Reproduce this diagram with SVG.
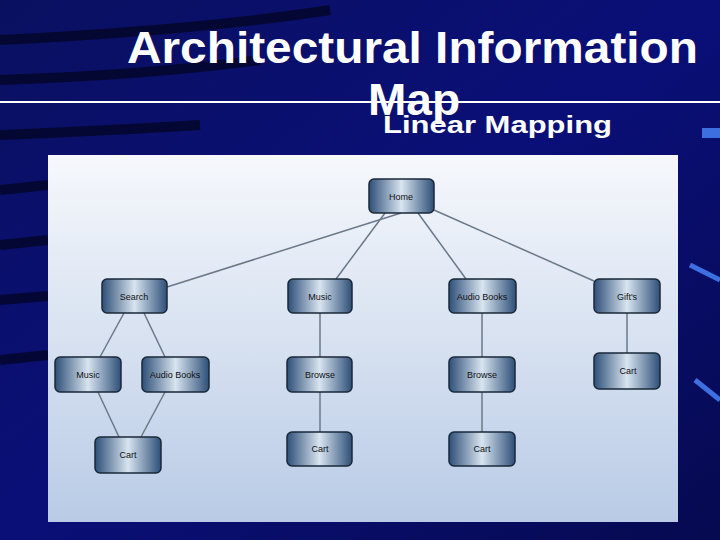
<svg xmlns="http://www.w3.org/2000/svg" width="720" height="540" viewBox="0 0 720 540">
<defs>
<linearGradient id="bg" x1="0" y1="0" x2="1" y2="1"><stop offset="0" stop-color="#0a1060"/><stop offset="0.5" stop-color="#0a0f78"/><stop offset="1" stop-color="#060a50"/></linearGradient>
<linearGradient id="panel" x1="0" y1="0" x2="0" y2="1"><stop offset="0" stop-color="#f6f8fc"/><stop offset="1" stop-color="#b9cbe6"/></linearGradient>
<linearGradient id="node" x1="0" y1="0" x2="1" y2="0"><stop offset="0" stop-color="#2e4f78"/><stop offset="0.5" stop-color="#d8e4f0"/><stop offset="1" stop-color="#2e4f78"/></linearGradient>
<style>
.n rect{fill:url(#node);stroke:#1a2838;stroke-width:1.5}
.n text{font-family:"Liberation Sans",Arial,sans-serif;font-size:9px;fill:#111;text-anchor:middle}
#edges line{stroke:#6a7888;stroke-width:1.5}
.t{font-family:"Liberation Sans",Arial,sans-serif;font-weight:bold;fill:#fff}
.s{stroke:#02041c;stroke-width:10;fill:none;opacity:0.7}
</style>
</defs>
<rect width="720" height="540" fill="url(#bg)"/>
<path class="s" d="M0 40 Q200 30 330 10"/>
<path class="s" d="M0 80 Q150 75 260 60"/>
<path class="s" d="M0 135 Q120 130 200 125"/>
<path class="s" d="M0 190 L48 185"/>
<path class="s" d="M0 245 L48 240"/>
<path class="s" d="M0 300 L48 296"/>
<path class="s" d="M0 360 L48 355"/>
<path d="M690 265 L720 280" stroke="#3d6fe0" stroke-width="5"/>
<path d="M695 380 L720 400" stroke="#3d6fe0" stroke-width="5"/>
<rect x="702" y="128" width="18" height="10" fill="#3d6fe0"/>
<line x1="0" y1="102" x2="720" y2="102" stroke="#fff" stroke-width="2"/>
<text class="t" x="127" y="63" font-size="44" textLength="571" lengthAdjust="spacingAndGlyphs">Architectural Information</text>
<text class="t" x="368" y="115" font-size="44" textLength="92" lengthAdjust="spacingAndGlyphs">Map</text>
<text class="t" x="383" y="133" font-size="24" textLength="229" lengthAdjust="spacingAndGlyphs">Linear Mapping</text>
<rect x="48" y="155" width="630" height="367" fill="url(#panel)"/>
<g id="edges">
<line x1="401" y1="213" x2="167" y2="287"/>
<line x1="385" y1="213" x2="336" y2="279"/>
<line x1="418" y1="213" x2="466" y2="279"/>
<line x1="434" y1="210" x2="594" y2="281"/>
<line x1="124" y1="313" x2="100" y2="357"/>
<line x1="144" y1="313" x2="165" y2="357"/>
<line x1="320" y1="313" x2="320" y2="357"/>
<line x1="482" y1="313" x2="482" y2="357"/>
<line x1="627" y1="313" x2="627" y2="353"/>
<line x1="98" y1="392" x2="119" y2="437"/>
<line x1="165" y1="392" x2="141" y2="437"/>
<line x1="320" y1="392" x2="320" y2="432"/>
<line x1="482" y1="392" x2="482" y2="432"/>
</g>
<g id="home" class="n"><rect x="369" y="179" width="65" height="34" rx="5"/><text x="401" y="200">Home</text></g>
<g id="search" class="n"><rect x="102" y="279" width="65" height="34" rx="5"/><text x="134" y="300">Search</text></g>
<g id="music" class="n"><rect x="288" y="279" width="64" height="34" rx="5"/><text x="320" y="300">Music</text></g>
<g id="audio" class="n"><rect x="449" y="279" width="67" height="34" rx="5"/><text x="482" y="300">Audio Books</text></g>
<g id="gifts" class="n"><rect x="594" y="279" width="66" height="34" rx="5"/><text x="627" y="300">Gift's</text></g>
<g id="music2" class="n"><rect x="55" y="357" width="66" height="35" rx="5"/><text x="88" y="378">Music</text></g>
<g id="audio2" class="n"><rect x="142" y="357" width="67" height="35" rx="5"/><text x="175" y="378">Audio Books</text></g>
<g id="browse1" class="n"><rect x="287" y="357" width="65" height="35" rx="5"/><text x="320" y="378">Browse</text></g>
<g id="browse2" class="n"><rect x="449" y="357" width="66" height="35" rx="5"/><text x="482" y="378">Browse</text></g>
<g id="cart4" class="n"><rect x="594" y="353" width="66" height="36" rx="5"/><text x="628" y="374">Cart</text></g>
<g id="cart1" class="n"><rect x="95" y="437" width="66" height="36" rx="5"/><text x="128" y="458">Cart</text></g>
<g id="cart2" class="n"><rect x="287" y="432" width="65" height="34" rx="5"/><text x="320" y="452">Cart</text></g>
<g id="cart3" class="n"><rect x="449" y="432" width="66" height="34" rx="5"/><text x="482" y="452">Cart</text></g>
</svg>
